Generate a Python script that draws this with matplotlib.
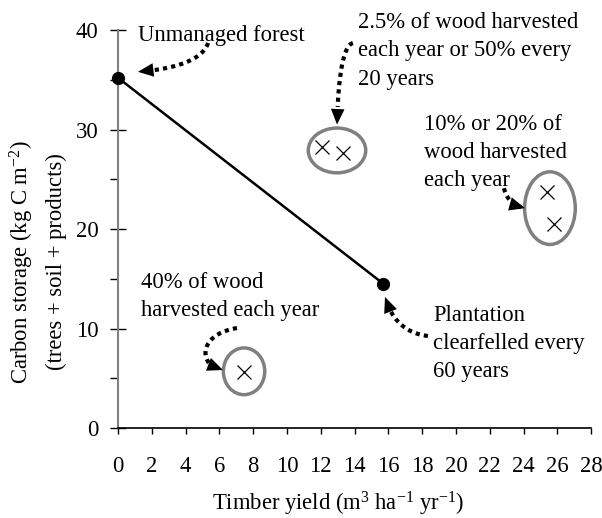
import matplotlib
matplotlib.use("Agg")
import matplotlib.pyplot as plt
import numpy as np
from matplotlib.patches import Ellipse, FancyArrowPatch
from matplotlib.ticker import MultipleLocator
from math import comb

plt.rcParams['font.family'] = ['Liberation Serif', 'DejaVu Serif']
plt.rcParams['mathtext.fontset'] = 'custom'
plt.rcParams['mathtext.rm'] = 'Liberation Serif'
plt.rcParams['mathtext.it'] = 'Liberation Serif:italic'

# line between unmanaged forest and plantation
line_x = [0.0, 15.7]
line_y = [35.2, 14.5]

# continuous-cover harvesting scenarios (crosses)
cross_x = [12.1, 13.3, 25.4, 25.8, 7.46]
cross_y = [28.2, 27.6, 23.7, 20.5, 5.6]

# grey ellipses grouping the crosses: centre x, centre y, width, height
ell_cx = [12.96, 25.56, 7.46]
ell_cy = [27.9, 22.1, 5.7]
ell_w = [3.4, 3.0, 2.45]
ell_h = [4.5, 7.3, 4.7]

labels = [
    "Unmanaged forest",
    "2.5% of wood harvested\neach year or 50% every\n20 years",
    "10% or 20% of\nwood harvested\neach year",
    "40% of wood\nharvested each year",
    "Plantation\nclearfelled every\n60 years",
]
label_xy = [(1.18, 40.5), (14.2, 41.8), (18.1, 31.6), (1.36, 15.7), (18.64, 12.4)]

# dotted arrows (bezier control points, data units)
arrows = [
    [(5.33, 38.7), (4.85, 36.3), (1.18, 35.8)],
    [(13.9, 38.7), (13.08, 38.3), (12.96, 30.5)],
    [(22.84, 24.1), (23.08, 22.4), (24.08, 22.1)],
    [(7.04, 10.05), (4.56, 9.35), (4.85, 6.03), (6.21, 5.83)],
    [(18.34, 9.25), (16.39, 9.65), (15.8, 13.17)],
]


def bezier(pts, t):
    pts = np.asarray(pts)
    n = len(pts) - 1
    return sum(comb(n, i) * (1 - t) ** (n - i) * t ** i * pts[i] for i in range(n + 1))


fig = plt.figure(figsize=(6.02, 5.18), dpi=100)
ax = fig.add_axes([0.196, 0.1737, 0.786, 0.7683])

ax.plot(line_x, line_y, color='black', lw=1.8, marker='o', ms=8.5, zorder=3,
        clip_on=False)
ax.plot(cross_x, cross_y, ls='none', marker='x', color='black', ms=10, mew=0.9)

for cx, cy, w, h in zip(ell_cx, ell_cy, ell_w, ell_h):
    ax.add_patch(Ellipse((cx, cy), w, h, fill=False, ec='#808080', lw=2.5))

for txt, (tx, ty) in zip(labels, label_xy):
    ax.text(tx, ty, txt, fontsize=16.3, va='top', ha='left', linespacing=1.45)

for pts in arrows:
    # dotted body stops short of the tip, solid head drawn separately
    ts = np.linspace(0, 0.88, 40)
    body = [bezier(pts, t) for t in ts]
    ax.plot([p[0] for p in body], [p[1] for p in body], color='black',
            lw=3, ls=(0, (1, 1)), solid_capstyle='butt')
    tail = bezier(pts, 0.8)
    ax.add_patch(FancyArrowPatch(tuple(tail), pts[-1],
                                 arrowstyle='-|>,head_length=0.8,head_width=0.35',
                                 mutation_scale=14, lw=0, color='black',
                                 shrinkA=0, shrinkB=0))

ax.set_xlim(0, 28)
ax.set_ylim(0, 40)
ax.xaxis.set_major_locator(MultipleLocator(2))
ax.yaxis.set_major_locator(MultipleLocator(10))
ax.yaxis.set_minor_locator(MultipleLocator(5))

ax.spines['top'].set_visible(False)
ax.spines['right'].set_visible(False)
ax.spines['left'].set_color('#808080')
ax.spines['left'].set_linewidth(1.5)
ax.spines['bottom'].set_linewidth(1.2)

ax.tick_params(axis='y', which='major', direction='inout', length=12, width=1.0,
               pad=8, labelsize=16.3)
ax.tick_params(axis='y', which='minor', direction='out', length=6, width=1.0)
ax.tick_params(axis='x', which='major', direction='out', length=4, width=1.0,
               pad=16, labelsize=16.3)

fig.text(338 / 602, 1 - 504 / 518, "Timber yield (m$^{3}$ ha$^{-1}$ yr$^{-1}$)",
         fontsize=16.3, ha='center', va='center')
fig.text(37 / 602, 1 - 262 / 518,
         "Carbon storage (kg C m$^{-2}$)\n(trees + soil + products)",
         fontsize=16.3, ha='center', va='center', rotation=90,
         multialignment='center', linespacing=1.6)

fig.savefig('out.png', dpi=100)
